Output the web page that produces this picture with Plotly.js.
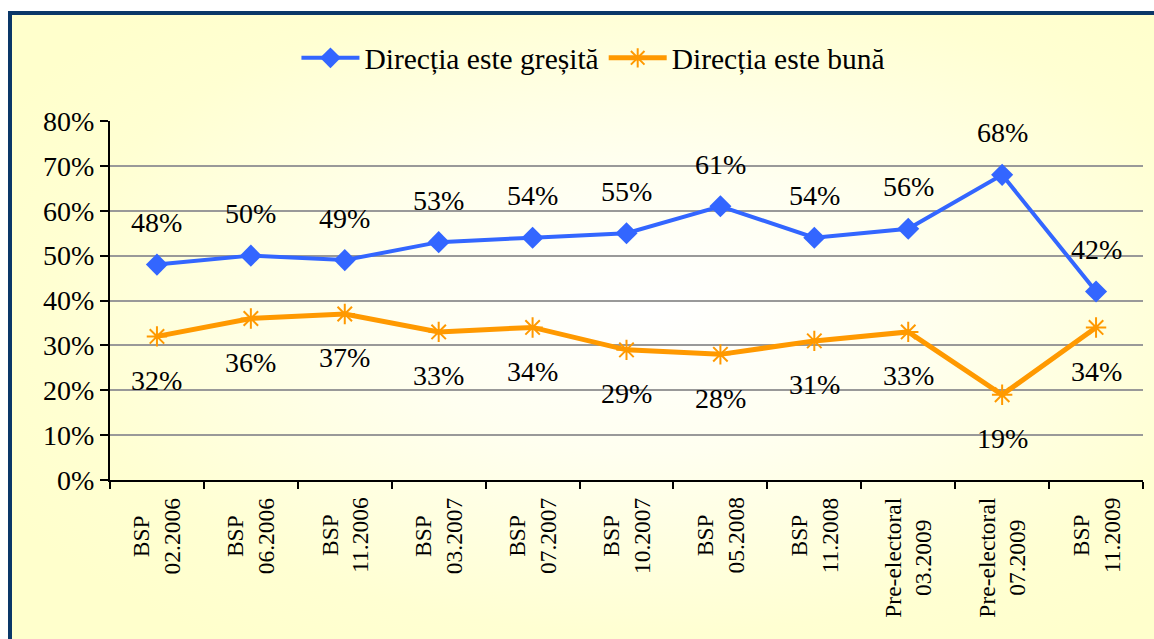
<!DOCTYPE html>
<html>
<head>
<meta charset="utf-8">
<script src="https://cdn.plot.ly/plotly-3.0.1.min.js"></script>
<style>
  html, body { margin: 0; padding: 0; background: #ffffff; width: 1154px; height: 639px; overflow: hidden; }
  #frame {
    position: absolute; left: 8px; top: 11px; width: 1200px; height: 700px;
    border-left: 4px solid #0a3768; border-top: 4px solid #0a3768;
    background: radial-gradient(ellipse 62% 58% at 53% 42%, #ffffff 0%, #fffff0 35%, #ffffd2 80%, #ffffcc 100%);
  }
  #chart { position: absolute; left: 0; top: 0; width: 1154px; height: 639px; }
</style>
</head>
<body>
<div id="frame"></div>
<div id="chart"></div>
<script>
const categories = ['BSP<br>02.2006', 'BSP<br>06.2006', 'BSP<br>11.2006', 'BSP<br>03.2007', 'BSP<br>07.2007',
  'BSP<br>10.2007', 'BSP<br>05.2008', 'BSP<br>11.2008', 'Pre-electoral<br>03.2009', 'Pre-electoral<br>07.2009', 'BSP<br>11.2009'];
const seriesNames = ['Direcția este greșită', 'Direcția este bună'];
const wrongDirection = [48, 50, 49, 53, 54, 55, 61, 54, 56, 68, 42];
const goodDirection = [32, 36, 37, 33, 34, 29, 28, 31, 33, 19, 34];
const yTickVals = [0, 10, 20, 30, 40, 50, 60, 70, 80];
const yTickText = ['0%', '10%', '20%', '30%', '40%', '50%', '60%', '70%', '80%'];

const serif = 'Liberation Serif';

const traces = [
  {
    x: categories, y: wrongDirection, name: seriesNames[0], type: 'scatter', mode: 'lines+markers',
    line: { color: '#3366ff', width: 4 },
    marker: { symbol: 'diamond', size: 17, color: '#3366ff' }
  },
  {
    x: categories, y: goodDirection, name: seriesNames[1], type: 'scatter', mode: 'lines+markers',
    line: { color: '#ff9900', width: 5 },
    marker: { symbol: 'asterisk-open', size: 17, color: '#ff9900', line: { color: '#ff9900', width: 2 } }
  }
];

const annotations = [];
categories.forEach((c, i) => {
  annotations.push({ x: c, y: wrongDirection[i], xref: 'x', yref: 'y', text: wrongDirection[i] + '%',
    showarrow: false, yshift: 42, font: { family: serif, size: 28, color: '#000' } });
  annotations.push({ x: c, y: goodDirection[i], xref: 'x', yref: 'y', text: goodDirection[i] + '%',
    showarrow: false, yshift: -44, font: { family: serif, size: 28, color: '#000' } });
  annotations.push({ x: c, y: 0, xref: 'x', yref: 'paper', text: c, textangle: -90, align: 'center',
    showarrow: false, xanchor: 'center', yanchor: 'top', yshift: -16, borderpad: 0,
    font: { family: serif, size: 23.5, color: '#000' } });
});

const layout = {
  width: 1154, height: 639,
  margin: { l: 110, r: 11, t: 121, b: 159 },
  paper_bgcolor: 'rgba(0,0,0,0)', plot_bgcolor: 'rgba(0,0,0,0)',
  showlegend: true,
  legend: {
    orientation: 'h', x: 0.468, xanchor: 'center', y: 1.175, yanchor: 'middle',
    font: { family: serif, size: 29.5, color: '#000' }, itemwidth: 58, bgcolor: 'rgba(0,0,0,0)',
    traceorder: 'normal'
  },
  xaxis: {
    type: 'category', range: [-0.5, 10.5], showticklabels: false, tickson: 'boundaries', ticks: 'outside', ticklen: 7,
    tickwidth: 2, tickcolor: '#000', showline: true, linecolor: '#000', linewidth: 2,
    showgrid: false, zeroline: false, fixedrange: true
  },
  yaxis: {
    range: [0, 80], tickvals: yTickVals, ticktext: yTickText, ticks: 'outside', ticklen: 8,
    tickwidth: 2, tickcolor: '#000', showline: true, linecolor: '#000', linewidth: 2,
    gridcolor: '#999999', gridwidth: 2, zeroline: false,
    tickfont: { family: serif, size: 28, color: '#000' }, fixedrange: true
  },
  annotations: annotations
};

Plotly.newPlot('chart', traces, layout, { displayModeBar: false, staticPlot: true });
</script>
</body>
</html>
